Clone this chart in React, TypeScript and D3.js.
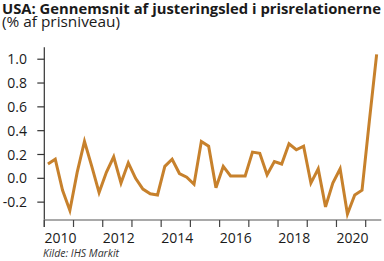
import React from "react";
import * as d3 from "d3";

const years = [2010, 2011, 2012, 2013, 2014, 2015, 2016, 2017, 2018, 2019, 2020, 2021];
const quarters: string[] = [];
years.forEach((y) => ["K1", "K2", "K3", "K4"].forEach((q) => quarters.push(`${y}${q}`)));
const categories = quarters.slice(0, 46);

const values = [
  0.12, 0.16, -0.1, -0.27,
  0.05, 0.31, 0.1, -0.12,
  0.05, 0.18, -0.04, 0.13,
  0.0, -0.09, -0.13, -0.14,
  0.1, 0.16, 0.04, 0.01,
  -0.05, 0.31, 0.27, -0.08,
  0.1, 0.02, 0.02, 0.02,
  0.22, 0.21, 0.03, 0.14,
  0.12, 0.29, 0.24, 0.27,
  -0.04, 0.08, -0.24, -0.04,
  0.08, -0.3, -0.14, -0.1,
  0.48, 1.04,
];

const yTicks = [-0.2, 0.0, 0.2, 0.4, 0.6, 0.8, 1.0];
const yearLabels = [2010, 2012, 2014, 2016, 2018, 2020];
const yearTicks = years;

const title = "USA: Gennemsnit af justeringsled i prisrelationerne";
const subtitle = "(% af prisniveau)";
const source = "Kilde: IHS Markit";

export default function App() {
  const left = 44.3;
  const right = 380.3;
  const top = 47.3;
  const bottom = 220;
  const x = d3.scaleBand<string>().domain(categories).range([left, right]).padding(0);
  const y = d3.scaleLinear().domain([-0.35, 1.1]).range([bottom, top]);
  const line = d3
    .line<number>()
    .x((_, i) => (x(categories[i]) as number) + x.bandwidth() / 2)
    .y((d) => y(d));
  const font = "'Open Sans', sans-serif";
  return (
    <svg
      width={384}
      height={261}
      style={{ position: "absolute", left: 0, top: 0, background: "#fff" }}
      fontFamily={font}
    >
      <text x={2} y={14} fontSize={15} fontWeight="bold" fill="#1a1a1a" textLength={379} lengthAdjust="spacingAndGlyphs">
        {title}
      </text>
      <text x={2} y={27} fontSize={14} fill="#1a1a1a" textLength={118} lengthAdjust="spacingAndGlyphs">
        {subtitle}
      </text>
      {/* y axis */}
      <line x1={left} x2={left} y1={top} y2={bottom + 7} stroke="#333" strokeWidth={1.2} />
      {yTicks.map((t) => (
        <g key={t}>
          <line x1={left - 7} x2={left} y1={y(t)} y2={y(t)} stroke="#333" strokeWidth={1.2} />
          <text x={27} y={y(t)} dy="0.36em" textAnchor="end" fontSize={14} fill="#1a1a1a">
            {d3.format(".1f")(t).replace("−", "-")}
          </text>
        </g>
      ))}
      {/* x axis */}
      <line x1={left} x2={right + 1} y1={bottom} y2={bottom} stroke="#8c8c8c" strokeWidth={1.4} />
      {yearTicks.map((yr) => {
        const xx = x(`${yr}K1`) as number;
        return <line key={yr} x1={xx} x2={xx} y1={bottom} y2={bottom + 7} stroke="#444" strokeWidth={1.2} />;
      })}
      {yearLabels.map((yr) => {
        const xx = (x(`${yr}K1`) as number) + 2 * x.bandwidth() + 1.5;
        return (
          <text key={yr} x={xx} y={242.5} textAnchor="middle" fontSize={14} fill="#1a1a1a">
            {yr}
          </text>
        );
      })}
      <path d={line(values) || ""} fill="none" stroke="#C7812C" strokeWidth={3} strokeLinejoin="miter" />
      <text x={43} y={256.5} fontSize={10} fontStyle="italic" fill="#333" textLength={76} lengthAdjust="spacingAndGlyphs">
        {source}
      </text>
    </svg>
  );
}
